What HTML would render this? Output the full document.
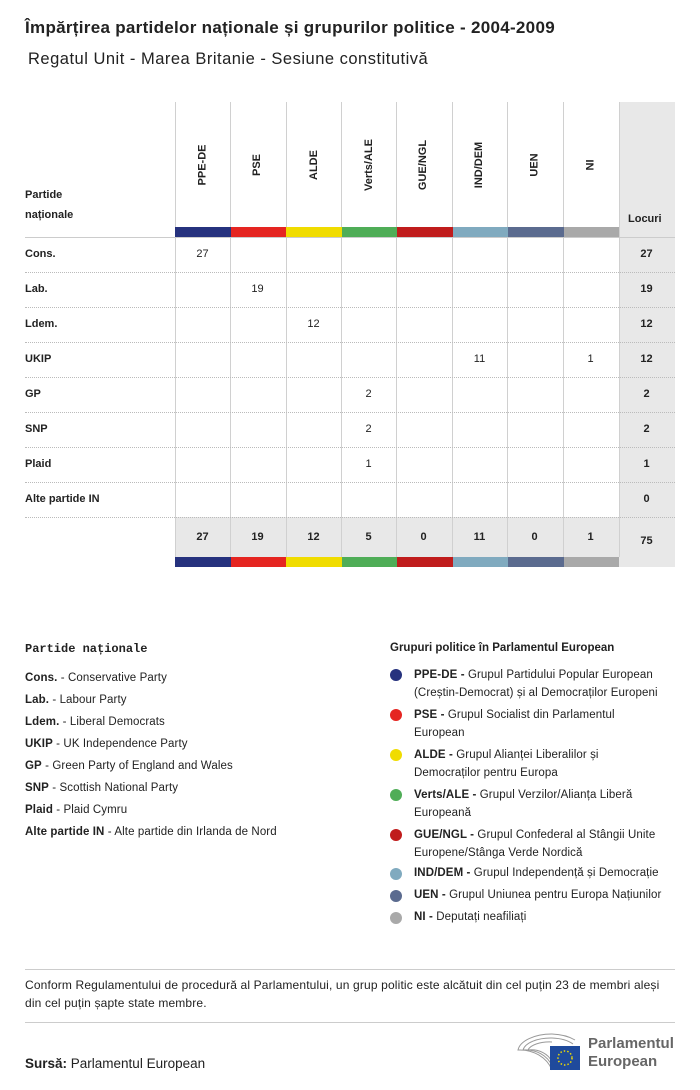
<!DOCTYPE html>
<html><head><meta charset="utf-8"><style>
body{margin:0;width:700px;height:1090px;background:#fff;font-family:"Liberation Sans",sans-serif;color:#222;position:relative;overflow:hidden}
.a{position:absolute;white-space:nowrap}
.t{font-size:11px}
.lg{font-size:11.5px;letter-spacing:0.1px}
.b{font-weight:bold}
.vl{position:absolute;width:1px;background:#d0d0d0}
.hl{position:absolute;left:25px;width:650px;border-top:1px dotted #bbb;height:0}
.hd{position:absolute;top:120px;height:90px;width:55px;display:flex;align-items:center;justify-content:center}
.hd span{transform:rotate(-90deg);font-size:11px;font-weight:bold;white-space:nowrap}
.c{position:absolute;width:55px;text-align:center;font-size:11px}
.dot{position:absolute;left:390px;width:12px;height:12px;border-radius:50%}
</style></head><body>
<div class="a b" style="left:25px;top:18px;font-size:17px;letter-spacing:0.3px">Împărțirea partidelor naționale și grupurilor politice - 2004-2009</div>
<div class="a" style="left:28px;top:50px;font-size:16.5px;letter-spacing:0.5px">Regatul Unit - Marea Britanie - Sesiune constitutivă</div>

<div class="a" style="left:619px;top:102px;width:56px;height:465px;background:#e8e8e8"></div>
<div class="a" style="left:175px;top:517px;width:444px;height:50px;background:#e8e8e8"></div>

<div class="vl" style="left:175px;top:102px;height:455px"></div>
<div class="vl" style="left:230px;top:102px;height:455px"></div>
<div class="vl" style="left:286px;top:102px;height:455px"></div>
<div class="vl" style="left:341px;top:102px;height:455px"></div>
<div class="vl" style="left:396px;top:102px;height:455px"></div>
<div class="vl" style="left:452px;top:102px;height:455px"></div>
<div class="vl" style="left:507px;top:102px;height:455px"></div>
<div class="vl" style="left:563px;top:102px;height:455px"></div>
<div class="vl" style="left:619px;top:102px;height:455px"></div>

<div class="hd" style="left:175px"><span>PPE-DE</span></div>
<div class="hd" style="left:230px"><span>PSE</span></div>
<div class="hd" style="left:286px"><span>ALDE</span></div>
<div class="hd" style="left:341px"><span>Verts/ALE</span></div>
<div class="hd" style="left:396px"><span>GUE/NGL</span></div>
<div class="hd" style="left:452px"><span>IND/DEM</span></div>
<div class="hd" style="left:507px"><span>UEN</span></div>
<div class="hd" style="left:563px"><span>NI</span></div>

<div class="a t b" style="left:25px;top:185px;line-height:20px">Partide<br>naționale</div>
<div class="a t b" style="left:628px;top:213px">Locuri</div>

<div class="a" style="left:175px;top:227px;height:10px;width:444px;display:flex">
<div style="flex:1;background:#26327e"></div><div style="flex:1;background:#e52521"></div><div style="flex:1;background:#f0dc00"></div><div style="flex:1;background:#4fad57"></div><div style="flex:1;background:#c01c1c"></div><div style="flex:1;background:#80aabf"></div><div style="flex:1;background:#5b6b8f"></div><div style="flex:1;background:#a9a9a9"></div></div>
<div class="a" style="left:175px;top:557px;height:10px;width:444px;display:flex">
<div style="flex:1;background:#26327e"></div><div style="flex:1;background:#e52521"></div><div style="flex:1;background:#f0dc00"></div><div style="flex:1;background:#4fad57"></div><div style="flex:1;background:#c01c1c"></div><div style="flex:1;background:#80aabf"></div><div style="flex:1;background:#5b6b8f"></div><div style="flex:1;background:#a9a9a9"></div></div>

<div class="a" style="left:25px;top:237px;width:650px;height:1px;background:#ccc"></div>
<div class="hl" style="top:272px"></div><div class="hl" style="top:307px"></div><div class="hl" style="top:342px"></div><div class="hl" style="top:377px"></div><div class="hl" style="top:412px"></div><div class="hl" style="top:447px"></div><div class="hl" style="top:482px"></div><div class="hl" style="top:517px"></div>

<div class="a t b" style="left:25px;top:248px">Cons.</div>
<div class="a t b" style="left:25px;top:283px">Lab.</div>
<div class="a t b" style="left:25px;top:318px">Ldem.</div>
<div class="a t b" style="left:25px;top:353px">UKIP</div>
<div class="a t b" style="left:25px;top:388px">GP</div>
<div class="a t b" style="left:25px;top:423px">SNP</div>
<div class="a t b" style="left:25px;top:458px">Plaid</div>
<div class="a t b" style="left:25px;top:493px">Alte partide IN</div>

<div class="c" style="left:175px;top:248px">27</div>
<div class="c" style="left:230px;top:283px">19</div>
<div class="c" style="left:286px;top:318px">12</div>
<div class="c" style="left:452px;top:353px">11</div>
<div class="c" style="left:563px;top:353px">1</div>
<div class="c" style="left:341px;top:388px">2</div>
<div class="c" style="left:341px;top:423px">2</div>
<div class="c" style="left:341px;top:458px">1</div>

<div class="c b" style="left:619px;top:248px">27</div>
<div class="c b" style="left:619px;top:283px">19</div>
<div class="c b" style="left:619px;top:318px">12</div>
<div class="c b" style="left:619px;top:353px">12</div>
<div class="c b" style="left:619px;top:388px">2</div>
<div class="c b" style="left:619px;top:423px">2</div>
<div class="c b" style="left:619px;top:458px">1</div>
<div class="c b" style="left:619px;top:493px">0</div>

<div class="c b" style="left:175px;top:531px">27</div>
<div class="c b" style="left:230px;top:531px">19</div>
<div class="c b" style="left:286px;top:531px">12</div>
<div class="c b" style="left:341px;top:531px">5</div>
<div class="c b" style="left:396px;top:531px">0</div>
<div class="c b" style="left:452px;top:531px">11</div>
<div class="c b" style="left:507px;top:531px">0</div>
<div class="c b" style="left:563px;top:531px">1</div>
<div class="c b" style="left:619px;top:535px">75</div>

<div class="a b" style="left:25px;top:642px;font-family:'Liberation Mono',monospace;font-size:12px">Partide naționale</div>
<div class="a lg" style="left:25px;top:667px;line-height:22px">
<b>Cons.</b> - Conservative Party<br><b>Lab.</b> - Labour Party<br><b>Ldem.</b> - Liberal Democrats<br><b>UKIP</b> - UK Independence Party<br><b>GP</b> - Green Party of England and Wales<br><b>SNP</b> - Scottish National Party<br><b>Plaid</b> - Plaid Cymru<br><b>Alte partide IN</b> - Alte partide din Irlanda de Nord</div>

<div class="a t b" style="left:390px;top:642px;font-size:11.5px">Grupuri politice în Parlamentul European</div>
<div class="dot" style="top:669px;background:#26327e"></div>
<div class="dot" style="top:709px;background:#e52521"></div>
<div class="dot" style="top:749px;background:#f0dc00"></div>
<div class="dot" style="top:789px;background:#4fad57"></div>
<div class="dot" style="top:829px;background:#c01c1c"></div>
<div class="dot" style="top:868px;background:#80aabf"></div>
<div class="dot" style="top:890px;background:#5b6b8f"></div>
<div class="dot" style="top:912px;background:#a9a9a9"></div>
<div class="a lg" style="left:414px;top:666px;line-height:18px">
<b>PPE-DE -</b> Grupul Partidului Popular European<br>(Creștin-Democrat) și al Democraților Europeni</div>
<div class="a lg" style="left:414px;top:706px;line-height:18px"><b>PSE -</b> Grupul Socialist din Parlamentul<br>European</div>
<div class="a lg" style="left:414px;top:746px;line-height:18px"><b>ALDE -</b> Grupul Alianței Liberalilor și<br>Democraților pentru Europa</div>
<div class="a lg" style="left:414px;top:786px;line-height:18px"><b>Verts/ALE -</b> Grupul Verzilor/Alianța Liberă<br>Europeană</div>
<div class="a lg" style="left:414px;top:826px;line-height:18px"><b>GUE/NGL -</b> Grupul Confederal al Stângii Unite<br>Europene/Stânga Verde Nordică</div>
<div class="a lg" style="left:414px;top:867px"><b>IND/DEM -</b> Grupul Independență și Democrație</div>
<div class="a lg" style="left:414px;top:889px"><b>UEN -</b> Grupul Uniunea pentru Europa Națiunilor</div>
<div class="a lg" style="left:414px;top:911px"><b>NI -</b> Deputați neafiliați</div>

<div class="a" style="left:25px;top:969px;width:650px;height:1px;background:#ccc"></div>
<div class="a" style="left:25px;top:976px;line-height:18px;font-size:12px;letter-spacing:0.15px">Conform Regulamentului de procedură al Parlamentului, un grup politic este alcătuit din cel puțin 23 de membri aleși<br>din cel puțin șapte state membre.</div>
<div class="a" style="left:25px;top:1022px;width:650px;height:1px;background:#ccc"></div>
<div class="a" style="left:25px;top:1056px;font-size:13.5px"><b>Sursă:</b> Parlamentul European</div>

<svg class="a" style="left:515px;top:1030px" width="75" height="42">
<g fill="none" stroke="#999" stroke-width="1">
<path d="M37 40 A34 30 0 0 0 3 20 A34 18 0 0 1 37 4"/><path d="M37 36 A28 24 0 0 0 8 20 A28 14 0 0 1 37 8"/><path d="M37 32 A22 18 0 0 0 13 20 A22 10 0 0 1 37 12"/><path d="M37 4 A34 18 0 0 1 60 10"/><path d="M37 8 A28 14 0 0 1 58 14"/></g>
<rect x="35" y="16" width="30" height="24" fill="#1f4a9c"/>
<circle cx="50" cy="28" r="7" fill="none" stroke="#f0dc00" stroke-width="1.5" stroke-dasharray="1.5 2"/>
</svg>
<div class="a b" style="left:588px;top:1035px;font-size:15px;color:#666;line-height:18px">Parlamentul<br>European</div>
</body></html>
